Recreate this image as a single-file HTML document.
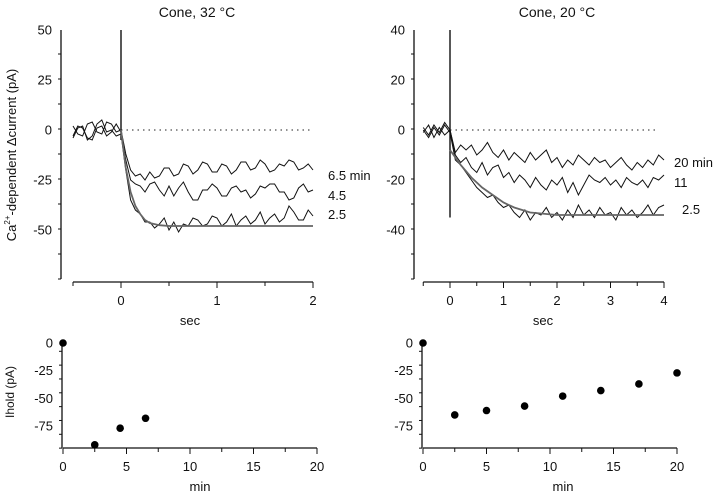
<!DOCTYPE html>
<html><head><meta charset="utf-8"><style>
body{margin:0;background:#fff;width:720px;height:495px;overflow:hidden}
svg text{font-family:"Liberation Sans",sans-serif;fill:#111}
</style></head><body>
<svg id="c" width="720" height="495" viewBox="0 0 720 495" xmlns="http://www.w3.org/2000/svg"></svg>
<script>
// ---- data ----
const tL = [-0.5,-0.45,-0.4,-0.35,-0.3,-0.25,-0.2,-0.15,-0.1,-0.05,0,0.05,0.1,0.15,0.2,0.25,0.3,0.35,0.4,0.45,0.5,0.55,0.6,0.65,0.7,0.75,0.8,0.85,0.9,0.95,1.0,1.05,1.1,1.15,1.2,1.25,1.3,1.35,1.4,1.45,1.5,1.55,1.6,1.65,1.7,1.75,1.8,1.85,1.9,1.95,2.0];
const a65 = [2,-2,-3,3,4,-1,-2,4,3,-1,0,-12,-20,-23,-22,-25,-21,-24,-23,-19,-19,-23,-22,-17,-18,-22,-20,-16,-17,-21,-21,-17,-18,-22,-20,-16,-16,-20,-19,-15,-17,-21,-20,-17,-18,-15,-16,-20,-19,-17,-20];
const a45 = [-3,2,1,-4,-5,1,2,-3,-1,3,-1,-15,-25,-27,-28,-31,-27,-26,-30,-33,-28,-33,-29,-26,-31,-35,-35,-30,-30,-27,-29,-33,-33,-29,-28,-31,-30,-34,-32,-28,-29,-27,-27,-31,-31,-35,-34,-29,-27,-31,-30];
const a25 = [-4,1,2,-5,-3,3,5,-1,0,-3,-2,-20,-35,-40,-42,-46,-46,-49,-47,-44,-50,-46,-51,-47,-48,-44,-45,-48,-47,-43,-44,-48,-46,-42,-48,-45,-43,-47,-45,-41,-47,-44,-42,-46,-44,-38,-41,-45,-45,-40,-43];
const fitLT = [0,0.05,0.1,0.15,0.2,0.25,0.3,0.4,0.5,2.0];
const fitLV = [0,-19,-31,-38,-42,-45,-46.5,-47.6,-48,-48];
const tR = [-0.5,-0.4,-0.3,-0.2,-0.1,0,0.1,0.2,0.3,0.4,0.5,0.6,0.7,0.8,0.9,1.0,1.1,1.2,1.3,1.4,1.5,1.6,1.7,1.8,1.9,2.0,2.1,2.2,2.3,2.4,2.5,2.6,2.7,2.8,2.9,3.0,3.1,3.2,3.3,3.4,3.5,3.6,3.7,3.8,3.9,4.0];
const b20 = [1,-2,2,-1,3,0,-9,-6,-8,-6,-10,-8,-5,-9,-11,-8,-12,-9,-11,-13,-9,-12,-10,-8,-13,-11,-15,-12,-14,-10,-12,-14,-11,-13,-12,-15,-13,-11,-14,-16,-13,-15,-12,-14,-10,-12];
const b11 = [-1,2,-3,1,-2,0,-10,-13,-11,-15,-17,-13,-18,-15,-14,-19,-17,-21,-18,-20,-23,-19,-22,-24,-20,-22,-19,-25,-21,-26,-22,-18,-20,-21,-19,-22,-20,-23,-19,-21,-22,-20,-23,-19,-20,-18];
const b25 = [0,-3,1,-2,2,-1,-12,-14,-17,-20,-23,-25,-27,-26,-29,-31,-30,-33,-35,-32,-36,-33,-34,-31,-35,-33,-36,-32,-35,-30,-34,-32,-35,-31,-34,-33,-36,-31,-34,-32,-35,-33,-30,-34,-31,-30];
const fitRT = [0,0.2,0.4,0.6,0.8,1.0,1.2,1.5,2.0,4.0];
const fitRV = [-8,-14,-19,-23,-26,-29,-31,-33,-34,-34];
const holdLX = [0,2.5,4.5,6.5];
const holdLY = [0,-92,-77,-68];
const holdRX = [0,2.5,5,8,11,14,17,20];
const holdRY = [0,-65,-61,-57,-48,-43,-37,-27];
const yTicksTL = [50,25,0,-25,-50];
const yTicksTR = [40,20,0,-20,-40];
const xTicksTL = [0,1,2];
const xTicksTR = [0,1,2,3,4];
const yTicksB = [0,-25,-50,-75];
const xTicksB = [0,5,10,15,20];

const S='http://www.w3.org/2000/svg', svg=document.getElementById('c');
function el(t,a,p){const e=document.createElementNS(S,t);for(const k in a)e.setAttribute(k,a[k]);(p||svg).appendChild(e);return e;}
function lin(d0,d1,r0,r1){return v=>r0+(v-d0)*(r1-r0)/(d1-d0);}
function txt(x,y,s,anchor,size,name){const t=el('text',{x:x,y:y,'text-anchor':anchor||'middle','font-size':size||12});t.textContent=s;return t;}

function axes(g,X,Y,xr,yr,xt,yt,xMinor,yMinor,axY,axX,name){
  const a=el('g',{},g);
  
  
  el('line',{x1:axX,y1:Y(yr[0]),x2:axX,y2:Y(yr[1]),stroke:'#111','stroke-width':1.3},a);
  el('line',{x1:X(xr[0]),y1:axY,x2:X(xr[1]),y2:axY,stroke:'#111','stroke-width':1.3},a);
  for(let v=yr[1];v<=yr[0]+1e-9;v+=yMinor){const maj=yt.some(t=>Math.abs(t-v)<1e-6);el('line',{x1:axX-(maj?6:3),y1:Y(v),x2:axX,y2:Y(v),stroke:'#111'},a);}
  for(let v=xr[0];v<=xr[1]+1e-9;v+=xMinor){const maj=xt.some(t=>Math.abs(t-v)<1e-6);el('line',{x1:X(v),y1:axY,x2:X(v),y2:axY+(maj?6:4),stroke:'#111'},a);}
  yt.forEach(v=>txt(axX-9,Y(v)+4.5,String(v),'end',13,'y-tick-label'));
  xt.forEach(v=>txt(X(v),axY+23,String(v),'middle',13,'x-tick-label'));
}
function line(g,X,Y,xs,ys,name,w,col){
  const p=el('polyline',{points:xs.map((x,i)=>X(x)+','+Y(ys[i])).join(' '),fill:'none',stroke:col||'#111','stroke-width':w||1},g);
  
  
}

// top-left
let g=el('g',{});
let X=lin(0,2,121,313),Y=lin(0,-50,130,230);
axes(g,X,Y,[-0.5,2],[50,-74.5],xTicksTL,yTicksTL,0.5,12.5,282,61,'axes-32c');
el('line',{x1:X(0),y1:Y(0),x2:X(2),y2:Y(0),stroke:'#222','stroke-dasharray':'1.5,4'},g);
el('line',{x1:X(0),y1:Y(50),x2:X(0),y2:Y(-5),stroke:'#111','stroke-width':1.4},g);
line(g,X,Y,tL,a65,'trace-6.5min');line(g,X,Y,tL,a45,'trace-4.5min');line(g,X,Y,tL,a25,'trace-2.5min');
line(g,X,Y,fitLT,fitLV,'fit-curve',1.8,'#666');
txt(197,17,'Cone,  32 °C','middle',14,'title-32c');
txt(328,180,'6.5  min','start',13,'label-6.5min');txt(328,200,'4.5','start',13,'label-4.5');txt(328,219,'2.5','start',13,'label-2.5');
txt(190,325,'sec','middle',13,'x-axis-title');

// top-right
g=el('g',{});
X=lin(0,4,450,664);Y=lin(0,-40,130,230);
axes(g,X,Y,[-0.5,4],[40,-59.6],xTicksTR,yTicksTR,0.5,10,282,414,'axes-20c');
el('line',{x1:X(0),y1:Y(0),x2:X(3.9),y2:Y(0),stroke:'#222','stroke-dasharray':'1.5,4'},g);
el('line',{x1:X(0),y1:Y(40),x2:X(0),y2:Y(-35),stroke:'#111','stroke-width':1.4},g);
line(g,X,Y,tR,b20,'trace-20min');line(g,X,Y,tR,b11,'trace-11min');line(g,X,Y,tR,b25,'trace-2.5min');
line(g,X,Y,fitRT,fitRV,'fit-curve',1.8,'#666');
txt(557,17,'Cone,  20 °C','middle',14,'title-20c');
txt(674,167,'20  min','start',13,'label-20min');txt(674,187,'11','start',13,'label-11');txt(682,214,'2.5','start',13,'label-2.5');
txt(543,325,'sec','middle',13,'x-axis-title');

// bottom panels
function hold(xs,ys,x0,name,cx){
  const g=el('g',{});
  const X=lin(0,20,x0+1,x0+255),Y=lin(0,-75,343,426);
  axes(g,X,Y,[0,20],[0,-95],xTicksB,yTicksB,2.5,12.5,448,x0,'axes-'+name);
  xs.forEach((x,i)=>{const c=el('circle',{cx:X(x),cy:Y(ys[i]),r:3.8,fill:'#000'},g);});
  txt(cx,491,'min','middle',13,'x-axis-title');
}
hold(holdLX,holdLY,62,'ihold-32c',200);
hold(holdRX,holdRY,422,'ihold-20c',563);

let t=txt(0,0,'','middle',13,'y-axis-title');t.setAttribute('transform','translate(16,155) rotate(-90)');
t.innerHTML='Ca<tspan font-size="8" dy="-6">2+</tspan><tspan dy="6">-dependent Δcurrent  (pA)</tspan>';
t=txt(0,0,'Ihold  (pA)','middle',12,'ihold-axis-title');t.setAttribute('transform','translate(14,392) rotate(-90)');
</script>
</body></html>
